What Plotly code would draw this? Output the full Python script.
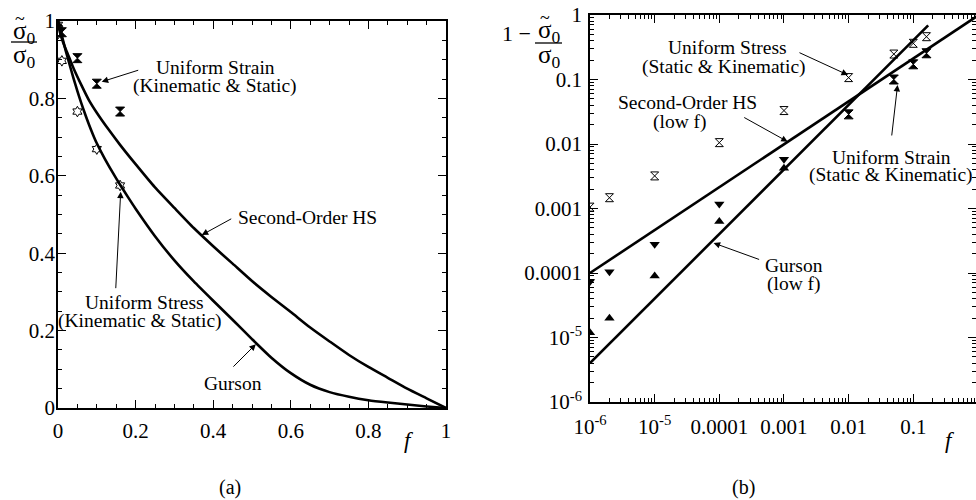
import plotly.graph_objects as go

FONT = "Liberation Serif, Times New Roman, serif"
W, H = 976, 500

# ---------------- Panel (a) data ----------------
gurson_f = [0, 0.01, 0.02, 0.03, 0.04, 0.05, 0.06, 0.07, 0.08, 0.09, 0.1, 0.12, 0.14, 0.16, 0.18,
            0.2, 0.25, 0.3, 0.35, 0.4, 0.45, 0.5, 0.55, 0.6, 0.65, 0.7, 0.75, 0.8, 0.85, 0.9, 0.95, 1.0]
gurson_y = [1.0, 0.962, 0.923, 0.887, 0.852, 0.819, 0.788, 0.759, 0.732, 0.707, 0.684, 0.645, 0.610, 0.577, 0.5455,
            0.515, 0.444, 0.3815, 0.327, 0.277, 0.228, 0.178, 0.13, 0.09, 0.06, 0.041, 0.029, 0.020, 0.014, 0.009, 0.004, 0.0]

hs_f = [0, 0.002, 0.005, 0.01, 0.02, 0.03, 0.04, 0.06, 0.08, 0.1, 0.13, 0.16, 0.2, 0.25, 0.3, 0.35,
        0.4, 0.45, 0.5, 0.55, 0.6, 0.65, 0.7, 0.75, 0.8, 0.85, 0.9, 0.95, 1.0]
hs_y = [1.0, 0.984, 0.971, 0.954, 0.927, 0.903, 0.878, 0.835, 0.795, 0.763, 0.72, 0.68, 0.63, 0.57, 0.517, 0.465,
        0.418, 0.373, 0.328, 0.287, 0.248, 0.208, 0.172, 0.137, 0.106, 0.078, 0.05, 0.025, 0.0]

strain_f_a = [0.001, 0.01, 0.05, 0.1, 0.16]
strain_y_a = [0.998, 0.971, 0.904, 0.838, 0.766]
stress_f_a = [0.0001, 0.001, 0.01, 0.05, 0.1, 0.16]
stress_y_a = [0.99, 0.968, 0.897, 0.766, 0.669, 0.575]

# ---------------- Panel (b) data ----------------
hs_low_f = [1e-6, 1.0]
hs_low_v = [1e-4, 0.98]
gurson_low_f = [1e-6, 0.17]
gurson_low_v = [4e-6, 0.69]

stress_f_b = [1e-6, 2e-6, 1e-5, 1e-4, 1e-3, 1e-2, 0.05, 0.1, 0.16]
stress_v_b = [1.05e-3, 1.47e-3, 3.2e-3, 1.05e-2, 3.3e-2, 0.107, 0.248, 0.364, 0.461]
strain_f_b = [0.01, 0.05, 0.1, 0.16]
strain_v_b = [0.0288, 0.1, 0.172, 0.255]
down_f_b = [1e-6, 2e-6, 1e-5, 1e-4, 1e-3]
down_v_b = [7.4e-5, 1.05e-4, 2.8e-4, 1.17e-3, 5.8e-3]
up_f_b = [1e-6, 2e-6, 1e-5, 1e-4, 1e-3]
up_v_b = [1.18e-5, 1.98e-5, 9.0e-5, 6.3e-4, 4.2e-3]

lin_ticks = [0, 0.2, 0.4, 0.6, 0.8, 1]
lin_text = ["0", "0.2", "0.4", "0.6", "0.8", "1"]
logx_ticks = [1e-6, 1e-5, 1e-4, 1e-3, 1e-2, 1e-1]
logx_text = ["10<sup>-6</sup>", "10<sup>-5</sup>", "0.0001", "0.001", "0.01", "0.1"]
logy_ticks = [1e-6, 1e-5, 1e-4, 1e-3, 1e-2, 1e-1, 1]
logy_text = ["10<sup>-6</sup>", "10<sup>-5</sup>", "0.0001", "0.001", "0.01", "0.1", "1"]

fig = go.Figure()
line_style = dict(color="black", width=2.6)

fig.add_trace(go.Scatter(x=gurson_f, y=gurson_y, mode="lines", line=dict(shape="spline", smoothing=0.6, **line_style),
                         xaxis="x", yaxis="y"))
fig.add_trace(go.Scatter(x=hs_f, y=hs_y, mode="lines", line=dict(shape="spline", smoothing=0.6, **line_style),
                         xaxis="x", yaxis="y"))
fig.add_trace(go.Scatter(x=stress_f_a, y=stress_y_a, mode="markers", xaxis="x", yaxis="y",
                         marker=dict(symbol="hexagram-open", size=8, color="black", line=dict(width=1, color="black"))))
fig.add_trace(go.Scatter(x=strain_f_a, y=strain_y_a, mode="markers", xaxis="x", yaxis="y",
                         marker=dict(symbol="hourglass", size=9, color="black", line=dict(width=1, color="black"))))

fig.add_trace(go.Scatter(x=hs_low_f, y=hs_low_v, mode="lines", line=line_style, xaxis="x2", yaxis="y2"))
fig.add_trace(go.Scatter(x=gurson_low_f, y=gurson_low_v, mode="lines", line=line_style, xaxis="x2", yaxis="y2"))
fig.add_trace(go.Scatter(x=stress_f_b, y=stress_v_b, mode="markers", xaxis="x2", yaxis="y2",
                         marker=dict(symbol="hourglass-open", size=8, color="black", line=dict(width=1, color="black"))))
fig.add_trace(go.Scatter(x=strain_f_b, y=strain_v_b, mode="markers", xaxis="x2", yaxis="y2",
                         marker=dict(symbol="hourglass", size=9, color="black", line=dict(width=1, color="black"))))
fig.add_trace(go.Scatter(x=down_f_b, y=down_v_b, mode="markers", xaxis="x2", yaxis="y2",
                         marker=dict(symbol="triangle-down", size=9, color="black")))
fig.add_trace(go.Scatter(x=up_f_b, y=up_v_b, mode="markers", xaxis="x2", yaxis="y2",
                         marker=dict(symbol="triangle-up", size=9, color="black")))

tickfont = dict(family=FONT, size=21, color="black")
common = dict(showline=True, linecolor="black", linewidth=1.5, mirror="allticks", ticks="inside",
              ticklen=8, tickwidth=1.3, tickcolor="black", showgrid=False, zeroline=False,
              tickfont=tickfont, automargin=False)

def px(x):
    return x / W

def py(y):
    return 1 - y / H

fig.update_layout(
    width=W, height=H, margin=dict(l=0, r=0, t=0, b=0, pad=0, autoexpand=False),
    paper_bgcolor="white", plot_bgcolor="white", showlegend=False,
    font=dict(family=FONT, color="black"),
    xaxis=dict(domain=[px(58), px(446)], range=[0, 1], tickmode="array", tickvals=lin_ticks, ticktext=lin_text,
               minor=dict(ticks="inside", ticklen=4, tickwidth=1, tickcolor="black", dtick=0.05, tick0=0),
               anchor="y", ticklabelstandoff=3, **common),
    yaxis=dict(domain=[py(408), py(21)], range=[0, 1], tickmode="array", tickvals=lin_ticks, ticktext=lin_text,
               minor=dict(ticks="inside", ticklen=4, tickwidth=1, tickcolor="black", dtick=0.05, tick0=0),
               anchor="x", ticklabelstandoff=-3, **common),
    xaxis2=dict(domain=[px(590), 1.0], type="log", range=[-6, -0.03], tickmode="array", tickvals=logx_ticks,
                ticktext=logx_text,
                minor=dict(ticks="inside", ticklen=4, tickwidth=1, tickcolor="black", dtick="D1"),
                anchor="y2", ticklabelstandoff=5, **common),
    yaxis2=dict(domain=[py(402), py(15)], type="log", range=[-6, 0], tickmode="array", tickvals=logy_ticks,
                ticktext=logy_text,
                minor=dict(ticks="inside", ticklen=4, tickwidth=1, tickcolor="black", dtick="D1"),
                anchor="x2", ticklabelstandoff=2, **common),
)

def text(x, y, s, size=19.5):
    fig.add_annotation(x=px(x), y=py(y), xref="paper", yref="paper", text=s, showarrow=False,
                       font=dict(family=FONT, size=size, color="black"), xanchor="center", yanchor="middle")

def arrow(xr, yr, x, y, ax, ay):
    fig.add_annotation(x=x, y=y, xref=xr, yref=yr, ax=ax, ay=ay, text="", showarrow=True,
                       arrowhead=2, arrowsize=1.3, arrowwidth=1, arrowcolor="black", standoff=0)

# Panel (a) labels
text(215, 67, "Uniform Strain")
text(215, 86, "(Kinematic &amp; Static)")
arrow("x", "y", 0.1126, 0.843, 38, -12)
text(307, 218, "Second-Order HS")
arrow("x", "y", 0.3704, 0.447, 31, -17)
text(144, 302, "Uniform Stress")
text(140, 321, "(Kinematic &amp; Static)")
arrow("x", "y", 0.1616, 0.559, -5, 98)
text(233, 383, "Gurson")
arrow("x", "y", 0.510, 0.165, -24, 24)

# Panel (b) labels
text(727, 48, "Uniform Stress")
text(724, 67, "(Static &amp; Kinematic)")
arrow("x2", "y2", -2.010, -0.930, -50, -23)
text(687, 103, "Second-Order HS")
text(680, 122, "(low f)")
arrow("x2", "y2", -2.942, -1.964, -45, -25)
text(891, 157, "Uniform Strain")
text(891, 175, "(Static &amp; Kinematic)")
arrow("x2", "y2", -1.243, -1.085, -6, 52)
text(794, 265, "Gurson")
text(794, 284, "(low f)")
arrow("x2", "y2", -4.088, -3.535, 47, 17)

# axis titles
text(409, 440, "<i>f</i>", size=23)
text(950, 440, "<i>f</i>", size=23)
text(230, 487, "(a)", size=20)
text(743, 487, "(b)", size=20)

# y-axis title fractions
text(24, 32, "σ<sub>0</sub>", size=25)
text(20, 19, "~", size=18)
text(24, 57, "σ<sub>0</sub>", size=25)
fig.add_shape(type="line", xref="paper", yref="paper", x0=px(11), x1=px(37), y0=py(42), y1=py(42),
              line=dict(color="black", width=1.3))
text(516, 33, "1 −", size=22)
text(549, 31, "σ<sub>0</sub>", size=25)
text(545, 18, "~", size=18)
text(549, 57, "σ<sub>0</sub>", size=25)
fig.add_shape(type="line", xref="paper", yref="paper", x0=px(535), x1=px(562), y0=py(43), y1=py(43),
              line=dict(color="black", width=1.3))

fig.write_html("out.html", config={"displayModeBar": False},
               post_script="document.body.style.margin='0';document.body.style.padding='0';"
                           "document.body.style.overflow='hidden';")
